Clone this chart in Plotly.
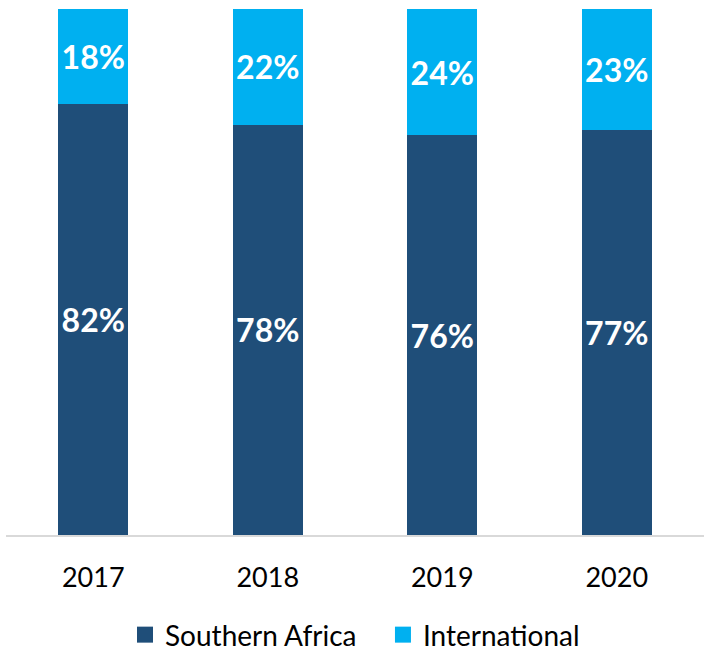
import plotly.graph_objects as go

years = ["2017", "2018", "2019", "2020"]
southern_africa = [82, 78, 76, 77]
international = [18, 22, 24, 23]
series_names = ["Southern Africa", "International"]
series_colors = ["#1F4E79", "#00B0F0"]

fig = go.Figure()
for name, vals, col in zip(series_names, [southern_africa, international], series_colors):
    fig.add_trace(go.Bar(
        name=name, x=years, y=vals,
        marker=dict(color=col, line=dict(width=0)),
        text=[f"{v}%" for v in vals], textposition="inside",
        insidetextanchor="middle", showlegend=False,
        textfont=dict(color="white", size=32, family="Lato", weight="bold"),
    ))
# legend entries with larger square swatches
legend_labels = ["Southern Africa\u00a0\u00a0\u00a0", "International"]
for name, col in zip(legend_labels, series_colors):
    fig.add_trace(go.Scatter(
        name=name, x=[None], y=[None], mode="markers",
        marker=dict(symbol="square", size=18, color=col),
        showlegend=True,
    ))
fig.update_layout(
    barmode="stack", bargap=0.6,
    width=704, height=654,
    margin=dict(l=6, r=0, t=9, b=119, autoexpand=False),
    plot_bgcolor="white", paper_bgcolor="white",
    font=dict(family="Lato", size=27, color="#000000"),
    xaxis=dict(showline=True, linecolor="#D9D9D9", linewidth=2, ticks="",
               tickfont=dict(size=27, color="#000000"), ticklabelstandoff=18),
    yaxis=dict(range=[0, 100], visible=False, showgrid=False),
    legend=dict(orientation="h", x=0.5, xanchor="center", y=-0.19, yanchor="middle",
                font=dict(size=28, color="#000000"), traceorder="normal",
                itemsizing="trace", itemwidth=30),
    showlegend=True,
)
fig.write_html("out.html", config={"displayModeBar": False},
               post_script="document.body.style.margin='0';")
